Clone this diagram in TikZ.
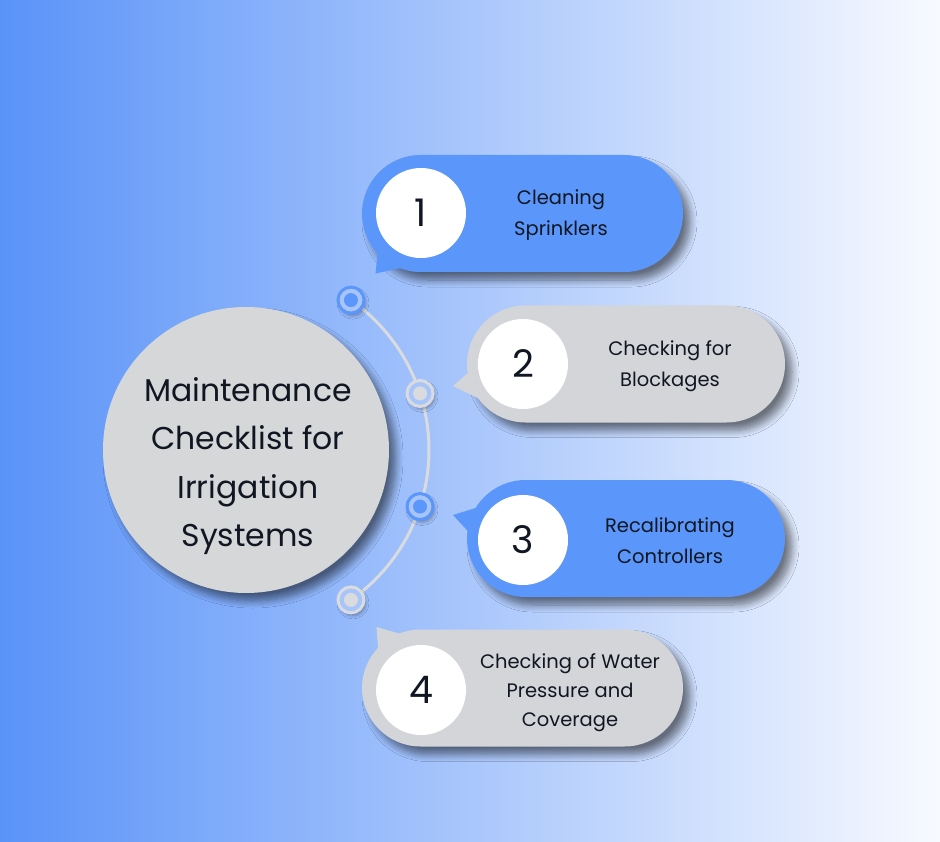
\documentclass[tikz,border=0pt]{standalone}
\usepackage{fontspec}
\setmainfont{Poppins}
\usetikzlibrary{shadows.blur,calc,shapes.misc}
\definecolor{bgL}{HTML}{5A93F8}
\definecolor{bgR}{HTML}{F8FAFF}
\definecolor{pblue}{HTML}{5B96FA}
\definecolor{pgray}{HTML}{D4D5D8}
\definecolor{cgray}{HTML}{D6D7D9}
\definecolor{arcgray}{HTML}{D9DBDF}
\definecolor{ringfill}{HTML}{A8C5FA}
\definecolor{ink}{HTML}{111722}
\tikzset{
  x=1pt, y=-1pt,
  shd/.style={blur shadow={shadow xshift=7pt, shadow yshift=-8pt, shadow blur radius=7pt, shadow blur steps=8, shadow opacity=50}},
  pill/.style={rounded rectangle, minimum width=321pt, minimum height=117pt, inner sep=0pt, shd},
  numc/.style={circle, fill=white, minimum size=90pt, inner sep=0pt, text=ink, font=\fontsize{38}{38}\selectfont},
  ptext/.style={align=center, text=ink, font=\fontsize{19.5}{31}\selectfont},
  ring/.style={circle, minimum size=26pt, inner sep=0pt, line width=3pt, fill=ringfill, blur shadow={shadow xshift=2pt, shadow yshift=-3pt, shadow blur radius=3pt, shadow opacity=30}},
  inner/.style={circle, minimum size=14pt, inner sep=0pt},
}
\begin{document}
\begin{tikzpicture}
\useasboundingbox (0,0) rectangle (940,842);
\shade[left color=bgL, right color=bgR] (0,0) rectangle (940,842);

% central circle
\node[circle, fill=cgray, minimum size=286pt, inner sep=0pt, shd] (c) at (246,450) {};
\node[align=center, text=ink, font=\fontsize{31.5}{48.5}\selectfont] (ctext) at (248,466) {Maintenance\\Checklist for\\Irrigation\\Systems};

% arc
\coordinate (cc) at (246,450);
\draw[arcgray, line width=3pt] ($(cc)+(-55:183)$) arc[start angle=-55, end angle=55, radius=183];

\node[ring, draw=pblue] (d1) at ($(cc)+(-55:183)$) {};
\node[inner, fill=pblue] (d1i) at (d1) {};
\node[ring, draw=arcgray] (d2) at ($(cc)+(-18:183)$) {};
\node[inner, fill=arcgray] (d2i) at (d2) {};
\node[ring, draw=pblue] (d3) at ($(cc)+(18:183)$) {};
\node[inner, fill=pblue] (d3i) at (d3) {};
\node[ring, draw=arcgray] (d4) at ($(cc)+(55:183)$) {};
\node[inner, fill=arcgray] (d4i) at (d4) {};

% pill 1
\node[pill, fill=pblue] (p1) at (522.5,213.5) {};
\fill[pblue] (375.5,273.5) -- (379,240) -- (410,266) -- cycle;
\node[numc] (n1) at (421,213) {1};
\node[ptext] (t1) at (561,215.5) {Cleaning\\Sprinklers};

% pill 2
\node[pill, fill=pgray, minimum width=318pt] (p2) at (626,364) {};
\fill[pgray] (453,386) -- (476,366) -- (482,400) -- cycle;
\node[numc] (n2) at (523,364) {2};
\node[ptext] (t2) at (670,366.5) {Checking for\\Blockages};

% pill 3
\node[pill, fill=pblue, minimum width=318pt] (p3) at (626,538.5) {};
\fill[pblue] (453,515) -- (482,506) -- (478,542) -- cycle;
\node[numc] (n3) at (523,540) {3};
\node[ptext] (t3) at (670,540.5) {Recalibrating\\Controllers};

% pill 4
\node[pill, fill=pgray] (p4) at (522.5,688) {};
\fill[pgray] (376.5,627) -- (408,636) -- (379,660) -- cycle;
\node[numc] (n4) at (421,690) {4};
\node[ptext, font=\fontsize{19.5}{29}\selectfont] (t4) at (570,693) {Checking of Water\\Pressure and\\Coverage};
\end{tikzpicture}
\end{document}
